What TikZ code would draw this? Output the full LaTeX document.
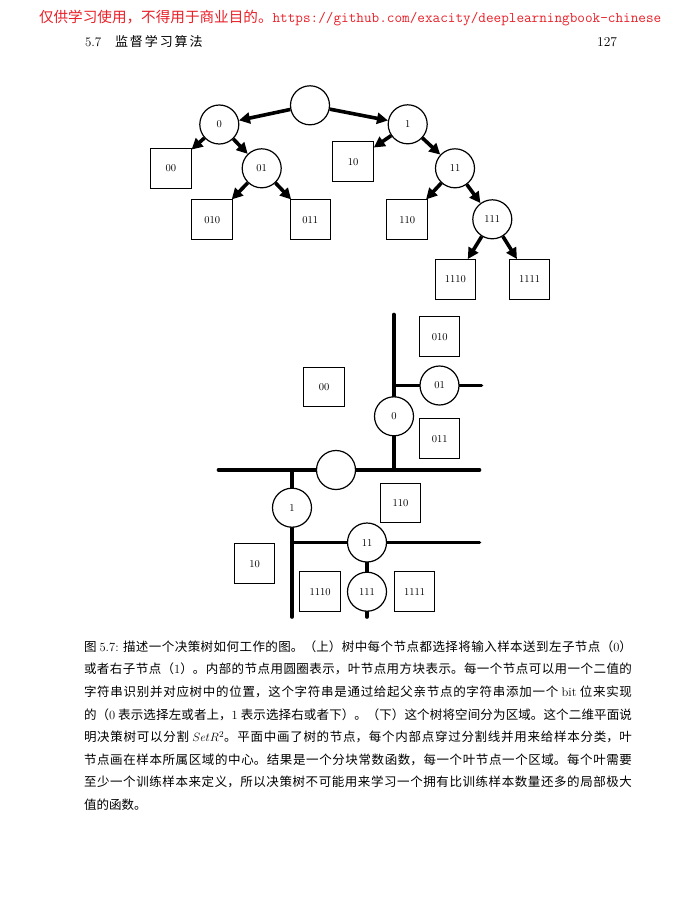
\documentclass[tikz,border=0pt]{standalone}
\usepackage{fontspec}
\newfontfamily\cjk{Noto Sans CJK SC}
\usetikzlibrary{arrows.meta}
\definecolor{hdrred}{RGB}{232,32,40}
\pgfdeclarelayer{bg}
\pgfsetlayers{bg,main}
\XeTeXlinebreaklocale "zh"
\XeTeXlinebreakskip=0pt plus 2pt
\begin{document}
\begin{tikzpicture}[x=1pt,y=-1pt,
  inner/.style={circle,draw,line width=1.2pt,minimum size=39pt,inner sep=0pt,fill=white,font=\fontsize{10.5}{12}\selectfont},
  leaf/.style={rectangle,draw,line width=1pt,minimum width=40.5pt,minimum height=39.5pt,inner sep=0pt,fill=white,font=\fontsize{10.5}{12}\selectfont},
  arr/.style={line width=3.6pt,-{Triangle[length=11pt,width=11pt]}},
  split/.style={line width=3.6pt,line cap=round},
  txt/.style={inner sep=0pt,outer sep=0pt}]
\useasboundingbox (0,0) rectangle (700,900);

% ---------- header ----------
\node[txt,anchor=base west,text=hdrred] (hdr) at (39,22.5)
  {\cjk\fontsize{14.6}{16}\selectfont 仅供学习使用，不得用于商业目的。\ttfamily\fontsize{14.8}{16}\selectfont https://github.com/exacity/deeplearningbook-chinese};
\node[txt,anchor=base west] (secnum) at (85,46.5) {\fontsize{13}{15}\selectfont 5.7};
\node[txt,anchor=base west] (sectitle) at (115,46.5)
  {\cjk\fontsize{13}{15}\selectfont\makebox[87.7pt][s]{监\hfill 督\hfill 学\hfill 习\hfill 算\hfill 法}};
\node[txt,anchor=base east] (pagenum) at (617,46.5) {\fontsize{13.5}{15}\selectfont 127};

% ---------- top tree ----------
\node[inner] (root) at (310,105.3) {};
\node[inner] (n0) at (219.3,124.5) {0};
\node[inner] (n1) at (407.7,124.3) {1};
\node[leaf]  (b00) at (170.8,168.3) {00};
\node[inner] (n01) at (261.7,168.3) {01};
\node[leaf]  (b10) at (353,161.7) {10};
\node[inner] (n11) at (455,168.3) {11};
\node[leaf]  (b010) at (212.2,219.7) {010};
\node[leaf]  (b011) at (310.3,219.7) {011};
\node[leaf]  (b110) at (407.2,219.7) {110};
\node[inner] (n111) at (492.3,219.3) {111};
\node[leaf]  (b1110) at (455.3,279.3) {1110};
\node[leaf]  (b1111) at (529.5,279.3) {1111};

\draw[arr] (root) -- (n0);
\draw[arr] (root) -- (n1);
\draw[arr] (n0) -- (b00);
\draw[arr] (n0) -- (n01);
\draw[arr] (n01) -- (b010);
\draw[arr] (n01) -- (b011);
\draw[arr] (n1) -- (b10);
\draw[arr] (n1) -- (n11);
\draw[arr] (n11) -- (b110);
\draw[arr] (n11) -- (n111);
\draw[arr] (n111) -- (b1110);
\draw[arr] (n111) -- (b1111);

% ---------- bottom: partition of the plane ----------
\node[inner] (broot) at (336,470) {};
\node[inner] (bn0) at (394,416.3) {0};
\node[inner] (bn01) at (439.5,385.5) {01};
\node[inner] (bn1) at (292,507.7) {1};
\node[inner] (bn11) at (367,542.5) {11};
\node[inner] (bn111) at (367,591.7) {111};
\node[leaf] (bb010) at (439.7,336.7) {010};
\node[leaf] (bb00) at (324.2,387) {00};
\node[leaf] (bb011) at (439.7,438.7) {011};
\node[leaf] (bb110) at (400.5,503) {110};
\node[leaf] (bb10) at (254.5,563.7) {10};
\node[leaf] (bb1110) at (320,591.7) {1110};
\node[leaf] (bb1111) at (414.7,591.7) {1111};

\coordinate (hL) at (218.5,470);
\coordinate (hR) at (479.5,470);
\coordinate (v0T) at (394,314.5);
\coordinate (v0B) at (394,470);
\coordinate (h01L) at (394,385.5);
\coordinate (h01R) at (481.5,385.5);
\coordinate (v1T) at (292,470);
\coordinate (v1B) at (292,617);
\coordinate (h11L) at (292,542.5);
\coordinate (h11R) at (479.5,542.5);
\coordinate (stubB) at (367,617);

\begin{pgfonlayer}{bg}
\draw[split] (hL) -- (broot.center) -- (hR);
\draw[split] (v0T) -- (bn0.center) -- (v0B);
\draw[split] (h01L) -- (bn01.center) -- (h01R);
\draw[split] (v1T) -- (bn1.center) -- (v1B);
\draw[split] (h11L) -- (bn11.center) -- (h11R);
\draw[split] (bn11.center) -- (bn111.center) -- (stubB);
\end{pgfonlayer}

% ---------- caption ----------
\node[txt,anchor=north west,text width=548pt,align=justify] (cap) at (84,640.5)
{\cjk\fontsize{12.5}{22.6}\selectfont\noindent
图 {\rmfamily 5.7:} 描述一个决策树如何工作的图。（上）树中每个节点都选择将输入样本送到左子节点（{\rmfamily 0}）\linebreak
或者右子节点（{\rmfamily 1}）。内部的节点用圆圈表示，叶节点用方块表示。每一个节点可以用一个二值的\linebreak
字符串识别并对应树中的位置，这个字符串是通过给起父亲节点的字符串添加一个 {\rmfamily bit} 位来实现\linebreak
的（{\rmfamily 0} 表示选择左或者上，{\rmfamily 1} 表示选择右或者下）。（下）这个树将空间分为区域。这个二维平面说\linebreak
明决策树可以分割 \(SetR^2\)。平面中画了树的节点，每个内部点穿过分割线并用来给样本分类，叶\linebreak
节点画在样本所属区域的中心。结果是一个分块常数函数，每一个叶节点一个区域。每个叶需要\linebreak
至少一个训练样本来定义，所以决策树不可能用来学习一个拥有比训练样本数量还多的局部极大\linebreak
值的函数。\par};
\end{tikzpicture}
\end{document}
